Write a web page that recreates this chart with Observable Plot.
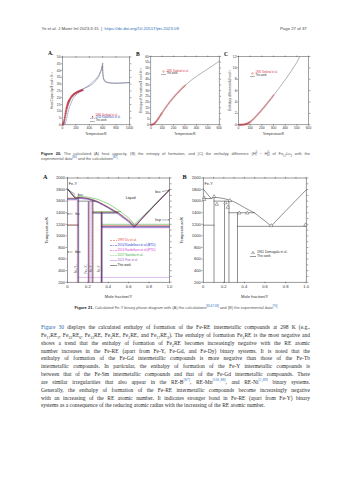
<!DOCTYPE html>
<html><head><meta charset="utf-8">
<script src="https://cdn.jsdelivr.net/npm/d3@7"></script>
<script src="https://cdn.jsdelivr.net/npm/@observablehq/plot@0.6"></script>
<style>
html,body{margin:0;padding:0;background:#fff;}
#page{position:relative;width:353px;height:480px;overflow:hidden;background:#fff;font-family:"Liberation Sans",Arial,sans-serif;color:#333;}
.abs{position:absolute;white-space:nowrap;line-height:1;}
.plot{position:absolute;}
.lk{color:#2b6cb5;}
.pl{font-family:"Liberation Serif",serif;font-weight:bold;color:#111;}
.leg{position:absolute;white-space:nowrap;line-height:1;display:flex;align-items:center;}
.leg svg{margin-right:1px;}
.body{position:absolute;left:41px;top:324px;width:269px;font-family:"Liberation Serif",serif;font-size:5.5px;line-height:7.85px;color:#2a2a2a;}
.body div{text-align:justify;text-align-last:justify;white-space:nowrap;overflow:visible;}
.body div.last{text-align-last:left;}
sub,sup{font-size:70%;line-height:0;}
</style></head><body><div id="page"></div>
<script>
// ---------- data: Fig 20 (Fe17Lu2) ----------
const cpT   = [0,20,40,60,80,100,125,150,175,200,250,300,350,400,450,500,540,570,590,600,603,610,625,650,700,800,900,1000];
const cpTW  = [0,1.2,5.5,10,13.8,16.6,19.2,21.1,22.5,23.6,25.2,26.4,27.4,28.5,30.2,32.6,35.3,39,42.5,45.6,38,34.6,32.4,31.3,30.8,30.6,30.8,31.2];
const cpKT  = [0,40,60,80,100,150,200,300,400,500,550,580,592,600,610,630,700,800,1000];
const cpK   = [0,0.8,4,8.5,12.5,18.8,22,26,29.4,33.8,37.2,40.8,43.5,39,34.5,32.3,31,30.7,31.1];
const expT  = [5,10,15,20,25,30,35,40,45,50,55,60,65,70,75,80,85,90,95,100,110,120,130,140,150,160,170,180,190,200,210,220,230,240,250,260,270,280,290,300];
const cpExp = [0.1,0.4,1.0,1.9,3.0,4.3,5.7,7.1,8.5,9.8,11.0,12.1,13.1,14.0,14.9,15.7,16.4,17.0,17.6,18.1,19.0,19.8,20.5,21.1,21.6,22.1,22.5,22.9,23.2,23.5,23.8,24.1,24.3,24.5,24.7,24.9,25.1,25.3,25.4,25.6];
const sT    = [0,20,40,60,80,100,125,150,175,200,250,300,350,400,450,500,550,600];
const sTW   = [0,0.4,2,4.6,7.6,10.7,14.4,17.9,21.1,24.1,29.6,34.5,38.8,42.5,45.9,49.1,52.4,55.9];
const sExp  = [0.02,0.1,0.2,0.4,0.7,1.1,1.5,2.0,2.6,3.2,3.9,4.6,5.3,6.1,6.8,7.6,8.4,9.1,9.9,10.7,12.2,13.7,15.1,16.5,17.9,19.2,20.5,21.7,22.9,24.1,25.3,26.4,27.5,28.6,29.6,30.6,31.6,32.6,33.5,34.5];
const hT    = [0,25,50,75,100,125,150,200,250,300,350,400,450,500,523];
const hTW   = [0,0.01,0.06,0.24,0.55,0.97,1.48,2.62,3.86,5.16,6.5,7.9,9.37,10.97,11.95];
const hExp  = [0,0,0,0.01,0.01,0.02,0.03,0.04,0.05,0.06,0.08,0.1,0.13,0.17,0.21,0.25,0.3,0.36,0.42,0.5,0.66,0.84,1.03,1.25,1.47,1.7,1.93,2.16,2.39,2.62,2.86,3.1,3.35,3.6,3.86,4.11,4.37,4.63,4.9,5.16];

// ---------- data: Fig 21 (Fe-Y) ----------
const twLiquidus = [[0,1811],[0.03,1745],[0.06,1680],[0.08,1648],[0.09,1655],[0.105,1665],[0.15,1660],[0.2,1645],[0.25,1622],[0.3,1588],[0.35,1542],[0.4,1490],[0.45,1440],[0.5,1395],[0.55,1325],[0.6,1258],[0.66,1165],[0.7,1245],[0.8,1430],[0.9,1612],[1,1795]];
const twLines = [[[0,1645],[0.08,1645]],[[0,1185],[0.105,1185]],[[0.105,1600],[0.27,1600]],[[0.25,1400],[0.496,1400]],[[0.333,1165],[1,1165]],
  [[0.105,200],[0.105,1665]],[[0.207,200],[0.207,1590]],[[0.25,200],[0.25,1600]],[[0.333,200],[0.333,1400]]];
const duLiquidus = [[0,1811],[0.04,1725],[0.075,1655],[0.1,1668],[0.2,1650],[0.3,1595],[0.4,1500],[0.5,1400],[0.6,1275],[0.67,1180],[0.75,1330],[0.85,1520],[1,1795]];
const duLines = [[[0.333,1180],[1,1180]],[[0,1655],[0.1,1655]],[[0,1190],[0.1,1190]],[[0.1,200],[0.1,1668]],[[0.21,200],[0.21,1580]],[[0.245,200],[0.245,1610]],[[0.333,200],[0.333,1410]],[[0.245,1410],[0.49,1410]]];
const kbLiquidus = [[0,1811],[0.05,1705],[0.08,1640],[0.105,1650],[0.2,1632],[0.3,1575],[0.4,1480],[0.5,1370],[0.6,1240],[0.65,1150],[0.75,1340],[0.9,1615],[1,1795]];
const kbLines = [[[0.333,1150],[1,1150]],[[0,1630],[0.09,1630]],[[0.25,1390],[0.47,1390]],[[0.11,200],[0.11,1650]],[[0.338,200],[0.338,1390]],[[0.24,200],[0.24,1590]]];
const kpLiquidus = [[0,1811],[0.05,1710],[0.085,1645],[0.105,1655],[0.2,1638],[0.3,1580],[0.4,1488],[0.5,1378],[0.6,1248],[0.655,1140],[0.75,1335],[0.9,1612],[1,1795]];
const kpLines = [[[0.333,1140],[1,1140]],[[0.328,200],[0.328,1395]],[[0.22,200],[0.22,1585]],[[0,1620],[0.085,1620]]];
const saLiquidus = [[0,1811],[0.05,1720],[0.09,1660],[0.105,1685],[0.2,1670],[0.3,1630],[0.4,1555],[0.5,1445],[0.6,1310],[0.655,1200],[0.75,1360],[0.9,1625],[1,1795]];
const saLines = [[[0.333,1200],[1,1200]],[[0.336,200],[0.336,1420]],[[0.25,1420],[0.52,1420]]];
const faLiquidus = [[0,1811],[0.05,1715],[0.08,1650],[0.105,1660],[0.2,1642],[0.3,1585],[0.4,1495],[0.5,1385],[0.6,1250],[0.66,1160],[0.8,1425],[1,1795]];
const faLines = [[[0.333,1160],[1,1160]],[[0.105,282],[1,282]],[[0.342,200],[0.342,1395]],[[0.2,200],[0.2,1580]],[[0.095,200],[0.095,1660]]];
const expFeY = [[0.009,1657],[0.009,1628],[0.106,1680],[0.132,1545],[0.216,1570],[0.239,1494],[0.259,1610],[0.35,1395],[0.427,1395],[0.66,1177],[0.993,1190]];
const phaseLabels = [{x:0.1,T:1714,t:"bcc"},{x:0.57,T:1662,t:"Liquid"},{x:0.075,T:1380,t:"fcc"},{x:0.075,T:722,t:"bcc"},{x:0.86,T:1766,t:"bcc"},{x:0.86,T:1276,t:"hcp"}];
const phaseArrows = [{x1:0.07,y1:1725,x2:0.01,y2:1790},{x1:0.045,y1:1380,x2:0.003,y2:1380},{x1:0.045,y1:722,x2:0.003,y2:722},{x1:0.93,y1:1766,x2:0.995,y2:1790},{x1:0.93,y1:1276,x2:0.997,y2:1276}];
const compoundLabels = [{x:0.085,T:430,t:"Fe₁₇Y₂"},{x:0.185,T:430,t:"Fe₂₃Y₆"},{x:0.228,T:430,t:"Fe₃Y"},{x:0.31,T:430,t:"Fe₂Y"}];
const xTicksPD = [0,0.2,0.4,0.6,0.8,1];
const yTicksPD = [200,400,600,800,1000,1200,1400,1600,1800,2000];

const page = document.getElementById("page");
function add(html){const d=document.createElement("div");d.innerHTML=html;while(d.firstChild)page.appendChild(d.firstChild);}
function place(el,left,top){el.classList.add("plot");el.style.left=left+"px";el.style.top=top+"px";page.appendChild(el);}
const ink="#444";
const rows=(xs,ys)=>xs.map((x,i)=>({x,y:ys[i]}));
const plain=d=>String(d);

function topChart(o){
  return Plot.plot({
    width:o.w,height:o.h,marginLeft:o.ml,marginRight:o.mr,marginTop:o.mt,marginBottom:o.mb,
    style:{fontFamily:"Liberation Sans, Arial, sans-serif",fontSize:"3.3px",color:"#333",background:"transparent",overflow:"visible"},
    x:{domain:o.xd},y:{domain:o.yd},
    marks:[
      Plot.axisX({ticks:o.xt,tickSize:1.4,tickPadding:0.6,strokeWidth:0.45,fontSize:3.3,tickFormat:plain,label:"Temperature/K",labelAnchor:"center",labelOffset:10.6,labelArrow:false}),
      Plot.axisX({anchor:"top",ticks:o.xt,tickSize:1.4,strokeWidth:0.45,tickFormat:()=>"",label:null}),
      Plot.axisY({ticks:o.yt,tickSize:1.4,tickPadding:0.6,strokeWidth:0.45,fontSize:3.3,tickFormat:plain,label:o.yl,labelAnchor:"center",labelOffset:o.lo,labelArrow:false}),
      Plot.axisY({anchor:"right",ticks:o.yt,tickSize:1.4,strokeWidth:0.45,tickFormat:()=>"",label:null}),
      Plot.frame({stroke:ink,strokeWidth:0.5}),
      ...o.marks
    ]});
}
const red="#d9343f", gray="#666";

// Chart A: heat capacity
place(topChart({w:96,h:96,ml:26,mr:3,mt:10.5,mb:17.7,xd:[0,1000],yd:[0,50],xt:[0,200,400,600,800,1000],yt:d3.range(0,51,5),
  yl:"Heat Capacity/J mol⁻¹ K⁻¹",lo:11.8,
  marks:[
    Plot.dot(rows(expT,cpExp),{x:"x",y:"y",symbol:"triangle",r:0.8,fill:red,stroke:red,strokeWidth:0.2}),
    Plot.line(rows(cpKT,cpK),{x:"x",y:"y",stroke:"#5566b8",strokeWidth:0.5,strokeDasharray:"2,1"}),
    Plot.line(rows(cpT,cpTW),{x:"x",y:"y",stroke:gray,strokeWidth:0.5})
  ]}),36,46);
// Chart B: entropy
place(topChart({w:98,h:96,ml:26.3,mr:3.3,mt:10,mb:17.7,xd:[0,600],yd:[0,60],xt:d3.range(0,601,100),yt:d3.range(0,61,5),
  yl:"Entropy of formation/J mol⁻¹K⁻¹",lo:10.8,
  marks:[
    Plot.dot(rows(expT,sExp),{x:"x",y:"y",r:0.7,stroke:red,strokeWidth:0.35,fill:"none"}),
    Plot.line(rows(sT,sTW),{x:"x",y:"y",stroke:gray,strokeWidth:0.5})
  ]}),124,46);
// Chart C: enthalpy difference
place(topChart({w:99,h:96,ml:26,mr:3,mt:10,mb:17.7,xd:[0,600],yd:[0,12],xt:d3.range(0,601,100),yt:d3.range(0,13,2),
  yl:"Enthalpy difference/kJ mol⁻¹",lo:10,
  marks:[
    Plot.dot(rows(expT,hExp),{x:"x",y:"y",r:0.7,stroke:red,strokeWidth:0.35,fill:"none"}),
    Plot.line(rows(hT,hTW),{x:"x",y:"y",stroke:gray,strokeWidth:0.5})
  ]}),212,46);

// Phase diagrams
function pdChart(o){
  return Plot.plot({
    width:o.w,height:132,marginLeft:o.ml,marginRight:o.mr,marginTop:9.5,marginBottom:18.3,
    style:{fontFamily:"Liberation Sans, Arial, sans-serif",fontSize:"4px",color:"#333",background:"transparent",overflow:"visible"},
    x:{domain:[0,1]},y:{domain:[200,2000]},
    marks:[
      Plot.axisX({ticks:xTicksPD,tickSize:1.6,tickPadding:1,strokeWidth:0.45,fontSize:4.1,tickFormat:d=>d===0?"0":d.toFixed(1),label:"Mole fraction/Y",labelAnchor:"center",labelOffset:15.4,labelArrow:false}),
      Plot.axisX({anchor:"top",ticks:d3.range(0,1.01,0.1),tickSize:1.6,strokeWidth:0.45,tickFormat:()=>"",label:null}),
      Plot.axisY({ticks:yTicksPD,tickSize:1.6,tickPadding:0.8,strokeWidth:0.45,fontSize:4.1,tickFormat:plain,label:"Temperature/K",labelAnchor:"center",labelOffset:o.lo,labelArrow:false}),
      Plot.axisY({anchor:"right",ticks:d3.range(200,2001,100),tickSize:1.6,strokeWidth:0.45,tickFormat:()=>"",label:null}),
      Plot.frame({stroke:"#333",strokeWidth:0.5}),
      ...o.marks
    ]});
}
const seg=(list,opt)=>list.map(s=>Plot.line(s,{x:d=>d[0],y:d=>d[1],...opt}));
const twStyle={stroke:"#333",strokeWidth:0.55};
const cDu="#e8433c",cKb="#2a3fc4",cKp="#d23ad2",cSa="#3aab3a",cFa="#b57be0";
place(pdChart({w:135,ml:27,mr:6,lo:22.4,marks:[
  ...seg([faLiquidus,...faLines],{stroke:cFa,strokeWidth:0.45}),
  ...seg([saLiquidus,...saLines],{stroke:cSa,strokeWidth:0.55,strokeDasharray:"0.8,0.8"}),
  ...seg([kpLiquidus,...kpLines],{stroke:cKp,strokeWidth:0.45,strokeDasharray:"2.5,0.8,0.8,0.8"}),
  ...seg([kbLiquidus,...kbLines],{stroke:cKb,strokeWidth:0.45,strokeDasharray:"2.5,0.8,0.8,0.8"}),
  ...seg([duLiquidus,...duLines],{stroke:cDu,strokeWidth:0.45,strokeDasharray:"2,1"}),
  ...seg([twLiquidus,...twLines],twStyle),
  Plot.arrow(phaseArrows,{x1:"x1",y1:"y1",x2:"x2",y2:"y2",stroke:"#333",strokeWidth:0.4,headLength:2.2}),
  Plot.text(phaseLabels,{x:"x",y:"T",text:"t",fontSize:3.7,fill:"#222",textAnchor:"start"}),
  Plot.text(compoundLabels,{x:"x",y:"T",text:"t",fontSize:3.1,fill:"#444",rotate:-90}),
  Plot.text(["Fe-Y"],{x:0.012,y:1905,text:d=>d,fontSize:3.8,fill:"#333",textAnchor:"start"})
]}),40,168);
place(pdChart({w:135,ml:26.7,mr:5.3,lo:23.1,marks:[
  ...seg([twLiquidus,...twLines],twStyle),
  Plot.dot(expFeY,{x:d=>d[0],y:d=>d[1],symbol:"triangle",r:1.3,stroke:"#333",strokeWidth:0.4,fill:"white"}),
  Plot.text(["Fe-Y"],{x:0.012,y:1905,text:d=>d,fontSize:3.8,fill:"#333",textAnchor:"start"})
]}),176,168);

// ---------- swatches / legends ----------
function sw(kind,color,dash){
  if(kind==="tri")return `<svg width="5" height="3"><path d="M2.5,0.5L3.5,2.4L1.5,2.4Z" fill="${color}"/></svg>`;
  if(kind==="circ")return `<svg width="5" height="3"><circle cx="2.5" cy="1.5" r="0.8" fill="none" stroke="${color}" stroke-width="0.4"/></svg>`;
  if(kind==="otri")return `<svg width="6" height="3.5"><path d="M3,0.3L4.5,3L1.5,3Z" fill="white" stroke="#333" stroke-width="0.4"/></svg>`;
  return `<svg width="${kind}" height="3"><line x1="0" x2="${kind}" y1="1.5" y2="1.5" stroke="${color}" stroke-width="0.5" ${dash?`stroke-dasharray="${dash}"`:""}/></svg>`;
}
function legend(x,y,fs,step,entries){
  entries.forEach((e,i)=>add(`<div class="leg" style="left:${x}px;top:${y+i*step}px;font-size:${fs}px;color:${e.c}">${e.s}${e.t}</div>`));
}
legend(89.5,114.6,2.6,2.65,[{s:sw("tri",red),t:"1981 Sorkinal et al.",c:red},{s:sw(5,"#5566b8","1.2,0.6"),t:"2014 Kardellass et al.",c:"#3a4fb0"},{s:sw(5,gray),t:"This work",c:"#333"}]);
legend(160.5,70.3,2.6,2.7,[{s:sw("circ",red),t:"1981 Sorkinal et al.",c:red},{s:sw(5,gray),t:"This work",c:"#333"}]);
legend(249.5,71.8,2.6,2.8,[{s:sw("circ",red),t:"1981 Sorkinal et al.",c:red},{s:sw(5,gray),t:"This work",c:"#333"}]);
legend(109.5,239.4,3.1,5,[
  {s:sw(7,cDu,"2,1"),t:"1997 Du et al.",c:cDu},
  {s:sw(7,cKb,"2.5,0.8,0.8,0.8"),t:"2014 Kardellass et al.(BTD)",c:cKb},
  {s:sw(7,cKp,"2.5,0.8,0.8,0.8"),t:"2014 Kardellass et al.(PTD)",c:cKp},
  {s:sw(7,cSa,"0.8,0.8"),t:"2017 Saenko et al.",c:cSa},
  {s:sw(7,cFa),t:"2021 Fan et al.",c:"#9a5ccc"},
  {s:sw(7,"#222"),t:"This work",c:"#222"}]);
legend(250,250.5,3.2,4.4,[{s:sw("otri"),t:"1961 Domagala et al.",c:"#333"},{s:sw(6,"#333"),t:"This work",c:"#333"}]);

// ---------- page text ----------
add(`<div class="abs" style="left:41.5px;top:26.8px;font-size:4.3px;color:#444">Ye et al. J Mater Inf 2023;3:15 &nbsp;|&nbsp; <span class="lk">https://dx.doi.org/10.20517/jmi.2023.09</span></div>`);
add(`<div class="abs" style="left:280px;top:26.8px;font-size:4.3px;color:#444">Page 27 of 37</div>`);
add(`<div class="abs pl" style="left:48px;top:51px;font-size:5.6px">A.</div>`);
add(`<div class="abs pl" style="left:136px;top:52px;font-size:5.6px">B</div>`);
add(`<div class="abs pl" style="left:224px;top:52px;font-size:5.6px">C</div>`);
add(`<div class="abs pl" style="left:43px;top:174.2px;font-size:6.2px">A</div>`);
add(`<div class="abs pl" style="left:182.5px;top:174.2px;font-size:6.2px">B</div>`);
add(`<div style="position:absolute;left:41px;top:150.6px;width:269px;font-size:3.95px;line-height:5.3px;color:#555">
<div style="text-align:justify;text-align-last:justify;white-space:nowrap"><b style="color:#222">Figure 20.</b> The calculated (A) heat capacity, (B) the entropy of formation, and (C) the enthalpy difference (<i>H</i><sup>0</sup><sub style="margin-left:-2px">T</sub> − <i>H</i><sup>0</sup><sub style="margin-left:-2px">0</sub>) of Fe<sub>17</sub>Lu<sub>2</sub> with the</div>
<div>experimental data<sup class="lk">[80]</sup> and the calculations<sup class="lk">[82]</sup>.</div></div>`);
add(`<div class="abs" style="left:0;width:353px;text-align:center;top:305.6px;font-size:4px;color:#555"><b style="color:#222">Figure 21.</b> Calculated Fe-Y binary phase diagram with (A) the calculations<sup class="lk">[65,67-69]</sup> and (B) the experimental data<sup class="lk">[70]</sup>.</div>`);
const bodyLines = [
 `<span class="lk">Figure 30</span> displays the calculated enthalpy of formation of the Fe-RE intermetallic compounds at 298 K (e.g.,`,
 `Fe<sub>17</sub>RE<sub>2</sub>, Fe<sub>23</sub>RE<sub>6</sub>, Fe<sub>12</sub>RE, Fe<sub>3</sub>RE, Fe<sub>2</sub>RE, and Fe<sub>17</sub>RE<sub>2</sub>). The enthalpy of formation Fe<sub>2</sub>RE is the most negative and`,
 `shows a trend that the enthalpy of formation of Fe<sub>2</sub>RE becomes increasingly negative with the RE atomic`,
 `number increases in the Fe-RE (apart from Fe-Y, Fe-Gd, and Fe-Dy) binary systems. It is noted that the`,
 `enthalpy of formation of the Fe-Gd intermetallic compounds is more negative than those of the Fe-Tb`,
 `intermetallic compounds. In particular, the enthalpy of formation of the Fe-Y intermetallic compounds is`,
 `between that of the Fe-Sm intermetallic compounds and that of the Fe-Gd intermetallic compounds. There`,
 `are similar irregularities that also appear in the RE-B<sup class="lk">[87]</sup>, RE-Mn<sup class="lk">[101,88]</sup>, and RE-Ni<sup class="lk">[1,89]</sup> binary systems.`,
 `Generally, the enthalpy of formation of the Fe-RE intermetallic compounds become increasingly negative`,
 `with an increasing of the RE atomic number. It indicates stronger bond in Fe-RE (apart from Fe-Y) binary`,
 `systems as a consequence of the reducing atomic radius with the increasing of the RE atomic number.`
];
add(`<div class="body">${bodyLines.map((l,i)=>`<div class="${i===bodyLines.length-1?"last":""}">${l}</div>`).join("")}</div>`);
</script></body></html>
